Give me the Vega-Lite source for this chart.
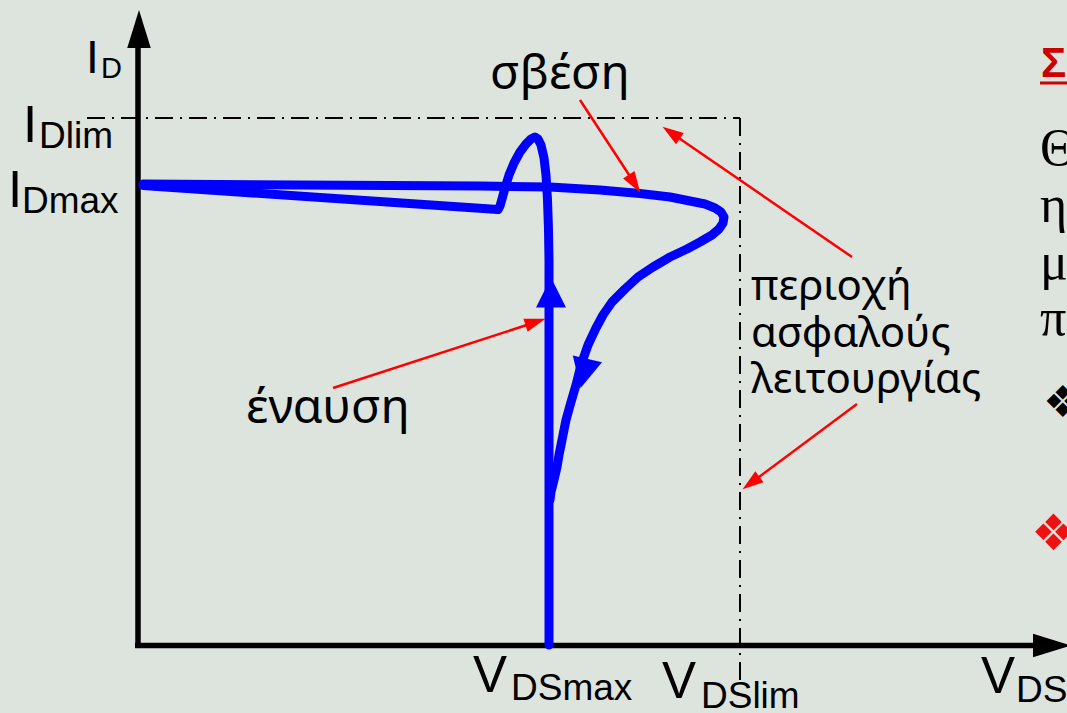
{
  "$schema": "https://vega.github.io/schema/vega-lite/v6.json",
  "width": 1067,
  "height": 713,
  "padding": 0,
  "autosize": "none",
  "background": "#dde4de",
  "config": {"view": {"stroke": null}},
  "datasets": {
    "trajectory": [
      {"seg": "turn-on", "i": 1, "x": 549, "y": 645},
      {"seg": "turn-on", "i": 2, "x": 549, "y": 400},
      {"seg": "turn-on", "i": 3, "x": 549, "y": 260},
      {"seg": "turn-on", "i": 4, "x": 548.5, "y": 230},
      {"seg": "turn-on", "i": 5, "x": 547.5, "y": 200},
      {"seg": "turn-on", "i": 6, "x": 546, "y": 175},
      {"seg": "turn-on", "i": 7, "x": 544, "y": 158},
      {"seg": "turn-on", "i": 8, "x": 541, "y": 145},
      {"seg": "turn-on", "i": 9, "x": 538, "y": 139},
      {"seg": "turn-on", "i": 10, "x": 535, "y": 137},
      {"seg": "turn-on", "i": 11, "x": 531, "y": 139},
      {"seg": "turn-on", "i": 12, "x": 526, "y": 144},
      {"seg": "turn-on", "i": 13, "x": 520, "y": 152},
      {"seg": "turn-on", "i": 14, "x": 514, "y": 163},
      {"seg": "turn-on", "i": 15, "x": 509, "y": 175},
      {"seg": "turn-on", "i": 16, "x": 505, "y": 188},
      {"seg": "turn-on", "i": 17, "x": 502, "y": 199},
      {"seg": "turn-on", "i": 18, "x": 500, "y": 206},
      {"seg": "turn-on", "i": 19, "x": 498, "y": 209.5},
      {"seg": "on-state", "i": 1, "x": 498, "y": 209.5},
      {"seg": "on-state", "i": 2, "x": 143, "y": 185.5},
      {"seg": "turn-off", "i": 1, "x": 143, "y": 184},
      {"seg": "turn-off", "i": 2, "x": 480, "y": 186},
      {"seg": "turn-off", "i": 3, "x": 550, "y": 187},
      {"seg": "turn-off", "i": 4, "x": 600, "y": 190},
      {"seg": "turn-off", "i": 5, "x": 640, "y": 193.5},
      {"seg": "turn-off", "i": 6, "x": 670, "y": 197},
      {"seg": "turn-off", "i": 7, "x": 690, "y": 201},
      {"seg": "turn-off", "i": 8, "x": 705, "y": 204},
      {"seg": "turn-off", "i": 9, "x": 715, "y": 208},
      {"seg": "turn-off", "i": 10, "x": 721, "y": 212},
      {"seg": "turn-off", "i": 11, "x": 724, "y": 217},
      {"seg": "turn-off", "i": 12, "x": 723, "y": 223},
      {"seg": "turn-off", "i": 13, "x": 719, "y": 229},
      {"seg": "turn-off", "i": 14, "x": 712, "y": 235},
      {"seg": "turn-off", "i": 15, "x": 700, "y": 242},
      {"seg": "turn-off", "i": 16, "x": 687, "y": 249},
      {"seg": "turn-off", "i": 17, "x": 670, "y": 257},
      {"seg": "turn-off", "i": 18, "x": 653, "y": 267},
      {"seg": "turn-off", "i": 19, "x": 638, "y": 277},
      {"seg": "turn-off", "i": 20, "x": 625, "y": 289},
      {"seg": "turn-off", "i": 21, "x": 612, "y": 302},
      {"seg": "turn-off", "i": 22, "x": 603, "y": 315},
      {"seg": "turn-off", "i": 23, "x": 596, "y": 328},
      {"seg": "turn-off", "i": 24, "x": 588, "y": 345},
      {"seg": "turn-off", "i": 25, "x": 581, "y": 365},
      {"seg": "turn-off", "i": 26, "x": 576, "y": 385},
      {"seg": "turn-off", "i": 27, "x": 571, "y": 402},
      {"seg": "turn-off", "i": 28, "x": 566, "y": 420},
      {"seg": "turn-off", "i": 29, "x": 562, "y": 440},
      {"seg": "turn-off", "i": 30, "x": 559, "y": 455},
      {"seg": "turn-off", "i": 31, "x": 557, "y": 467},
      {"seg": "turn-off", "i": 32, "x": 554, "y": 480},
      {"seg": "turn-off", "i": 33, "x": 551, "y": 492},
      {"seg": "turn-off", "i": 34, "x": 550, "y": 500}
    ],
    "axes": [
      {"name": "ID", "x": 138, "y": 648, "x2": 138, "y2": 40},
      {"name": "VDS", "x": 135, "y": 645.5, "x2": 1040, "y2": 645.5}
    ],
    "limits": [
      {"name": "IDlim", "x": 87, "y": 118, "x2": 740, "y2": 118},
      {"name": "VDSlim", "x": 740, "y": 118, "x2": 740, "y2": 682}
    ],
    "pointers": [
      {"label": "σβέση", "x": 580, "y": 100, "x2": 635, "y2": 184},
      {"label": "περιοχή-IDlim", "x": 852, "y": 257, "x2": 670, "y2": 132},
      {"label": "περιοχή-VDSlim", "x": 857, "y": 404, "x2": 751, "y2": 483},
      {"label": "έναυση", "x": 333, "y": 388, "x2": 536, "y2": 322}
    ],
    "mainLetters": [
      {"t": "I", "x": 8, "y": 207},
      {"t": "I", "x": 23, "y": 142},
      {"t": "V", "x": 473, "y": 692},
      {"t": "V", "x": 662, "y": 698},
      {"t": "V", "x": 981, "y": 693}
    ],
    "subscripts": [
      {"t": "Dmax", "x": 22, "y": 213},
      {"t": "Dlim", "x": 39, "y": 148},
      {"t": "DSmax", "x": 511, "y": 700},
      {"t": "DSlim", "x": 701, "y": 708},
      {"t": "DS", "x": 1016, "y": 702}
    ],
    "eventLabels": [
      {"t": "σβέση", "x": 490, "y": 89},
      {"t": "έναυση", "x": 246, "y": 423}
    ],
    "regionLabel": [
      {"t": "περιοχή", "x": 751, "y": 300},
      {"t": "ασφαλούς", "x": 751, "y": 347},
      {"t": "λειτουργίας", "x": 751, "y": 393}
    ],
    "sidebar": [
      {"t": "Θ", "x": 1040, "y": 165},
      {"t": "η", "x": 1040, "y": 222},
      {"t": "μ", "x": 1040, "y": 279},
      {"t": "π", "x": 1040, "y": 335}
    ]
  },
  "encoding": {
    "x": {"field": "x", "type": "quantitative", "axis": null, "scale": {"domain": [0, 1067], "nice": false, "zero": false}},
    "y": {"field": "y", "type": "quantitative", "axis": null, "scale": {"domain": [0, 713], "reverse": true, "nice": false, "zero": false}}
  },
  "layer": [
    {
      "data": {"name": "limits"},
      "mark": {"type": "rule", "color": "#000000", "strokeWidth": 2, "strokeDash": [18, 7, 2, 7]},
      "encoding": {"x2": {"field": "x2"}, "y2": {"field": "y2"}}
    },
    {
      "data": {"name": "axes"},
      "mark": {"type": "rule", "color": "#000000", "strokeWidth": 5.5},
      "encoding": {"x2": {"field": "x2"}, "y2": {"field": "y2"}}
    },
    {
      "data": {"values": [{"x": 139, "y": 29}]},
      "mark": {"type": "point", "shape": "M0,-1L0.62,1L-0.62,1Z", "size": 1444, "filled": true, "color": "#000000", "opacity": 1, "angle": 0}
    },
    {
      "data": {"values": [{"x": 1052, "y": 645.5}]},
      "mark": {"type": "point", "shape": "M0,-1L0.62,1L-0.62,1Z", "size": 1444, "filled": true, "color": "#000000", "opacity": 1, "angle": 90}
    },
    {
      "data": {"name": "trajectory"},
      "mark": {"type": "line", "color": "#0000ff", "strokeWidth": 9, "strokeCap": "round", "strokeJoin": "round"},
      "encoding": {"detail": {"field": "seg"}, "order": {"field": "i", "type": "quantitative"}}
    },
    {
      "data": {"values": [{"x": 551, "y": 292.5}]},
      "mark": {"type": "point", "shape": "M0,-1L1,1L-1,1Z", "size": 900, "filled": true, "color": "#0000ff", "opacity": 1, "angle": 0}
    },
    {
      "data": {"values": [{"x": 584, "y": 373.5}]},
      "mark": {"type": "point", "shape": "M0,-1L1,1L-1,1Z", "size": 900, "filled": true, "color": "#0000ff", "opacity": 1, "angle": 193}
    },
    {
      "data": {"name": "pointers"},
      "mark": {"type": "rule", "color": "#ff0000", "strokeWidth": 2.5},
      "encoding": {"x2": {"field": "x2"}, "y2": {"field": "y2"}}
    },
    {
      "data": {"values": [{"x": 634.5, "y": 183.6}]},
      "mark": {"type": "point", "shape": "M0,-1L0.65,1L-0.65,1Z", "size": 441, "filled": true, "color": "#ff0000", "opacity": 1, "angle": 147}
    },
    {
      "data": {"values": [{"x": 671.2, "y": 132.7}]},
      "mark": {"type": "point", "shape": "M0,-1L0.65,1L-0.65,1Z", "size": 441, "filled": true, "color": "#ff0000", "opacity": 1, "angle": 304.5}
    },
    {
      "data": {"values": [{"x": 751, "y": 483}]},
      "mark": {"type": "point", "shape": "M0,-1L0.65,1L-0.65,1Z", "size": 441, "filled": true, "color": "#ff0000", "opacity": 1, "angle": 233.3}
    },
    {
      "data": {"values": [{"x": 535.5, "y": 322.1}]},
      "mark": {"type": "point", "shape": "M0,-1L0.65,1L-0.65,1Z", "size": 441, "filled": true, "color": "#ff0000", "opacity": 1, "angle": 72}
    },
    {
      "data": {"values": [{"t": "I", "x": 86, "y": 73}]},
      "mark": {"type": "text", "font": "Liberation Sans", "fontSize": 46, "align": "left", "baseline": "alphabetic", "color": "#000000"},
      "encoding": {"text": {"field": "t"}}
    },
    {
      "data": {"values": [{"t": "D", "x": 101, "y": 78}]},
      "mark": {"type": "text", "font": "Liberation Sans", "fontSize": 29, "align": "left", "baseline": "alphabetic", "color": "#000000"},
      "encoding": {"text": {"field": "t"}}
    },
    {
      "data": {"name": "mainLetters"},
      "mark": {"type": "text", "font": "Liberation Sans", "fontSize": 51, "align": "left", "baseline": "alphabetic", "color": "#000000"},
      "encoding": {"text": {"field": "t"}}
    },
    {
      "data": {"name": "subscripts"},
      "mark": {"type": "text", "font": "Liberation Sans", "fontSize": 37, "align": "left", "baseline": "alphabetic", "color": "#000000"},
      "encoding": {"text": {"field": "t"}}
    },
    {
      "data": {"name": "eventLabels"},
      "mark": {"type": "text", "font": "Noto Sans", "fontSize": 48, "align": "left", "baseline": "alphabetic", "color": "#000000"},
      "encoding": {"text": {"field": "t"}}
    },
    {
      "data": {"name": "regionLabel"},
      "mark": {"type": "text", "font": "Noto Sans", "fontSize": 42, "align": "left", "baseline": "alphabetic", "color": "#000000"},
      "encoding": {"text": {"field": "t"}}
    },
    {
      "data": {"values": [{"t": "Σ", "x": 1041, "y": 77}]},
      "mark": {"type": "text", "font": "Liberation Sans", "fontWeight": "bold", "fontSize": 42, "align": "left", "baseline": "alphabetic", "color": "#cc0000"},
      "encoding": {"text": {"field": "t"}}
    },
    {
      "data": {"values": [{"x": 1040, "y": 83, "x2": 1067, "y2": 83}]},
      "mark": {"type": "rule", "color": "#cc0000", "strokeWidth": 3},
      "encoding": {"x2": {"field": "x2"}, "y2": {"field": "y2"}}
    },
    {
      "data": {"name": "sidebar"},
      "mark": {"type": "text", "font": "Liberation Serif", "fontSize": 52, "align": "left", "baseline": "alphabetic", "color": "#000000"},
      "encoding": {"text": {"field": "t"}}
    },
    {
      "data": {"values": [{"t": "❖", "x": 1043, "y": 417}]},
      "mark": {"type": "text", "font": "DejaVu Sans", "fontSize": 44, "align": "left", "baseline": "alphabetic", "color": "#000000"},
      "encoding": {"text": {"field": "t"}}
    },
    {
      "data": {"values": [{"t": "❖", "x": 1031, "y": 550}]},
      "mark": {"type": "text", "font": "DejaVu Sans", "fontSize": 50, "align": "left", "baseline": "alphabetic", "color": "#ee1111"},
      "encoding": {"text": {"field": "t"}}
    }
  ]
}
